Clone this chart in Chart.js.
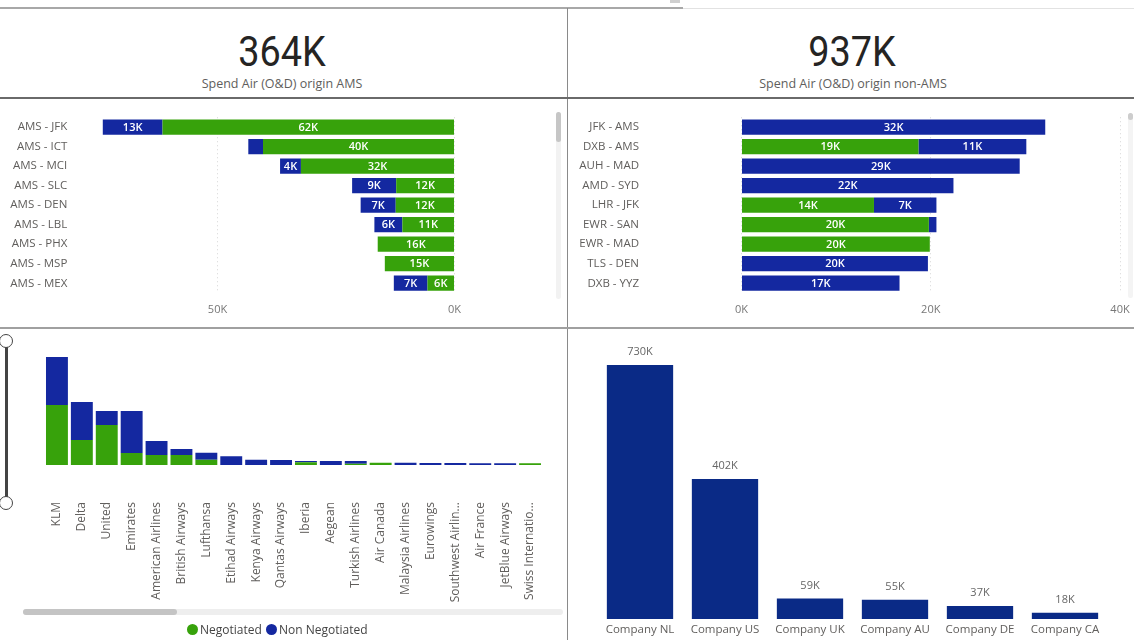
<!DOCTYPE html>
<html>
<head>
<meta charset="utf-8">
<script src="https://cdn.jsdelivr.net/npm/chart.js@4.4.1/dist/chart.umd.min.js"></script>
<style>
  body { margin:0; width:1134px; height:640px; background:#fff; position:relative; overflow:hidden; font-family:'Open Sans', sans-serif; }
  .abs { position:absolute; }
  canvas { position:absolute; }
  .kpi { position:absolute; width:300px; text-align:center; font-family:Roboto, sans-serif; font-size:43px; line-height:44px; color:#252423; transform:scaleX(0.88); }
  .kpiSub { position:absolute; width:300px; text-align:center; font-size:12.5px; line-height:16px; color:#605E5C; }
  .dot { display:inline-block; width:11px; height:11px; border-radius:50%; vertical-align:-1px; margin-right:2px; }
</style>
</head>
<body>

<!-- frame lines -->
<div class="abs" style="left:0;top:7px;width:683px;height:2px;background:#a8a8a8"></div>
<div class="abs" style="left:683px;top:8px;width:451px;height:1px;background:#e2e2e2"></div>
<div class="abs" style="left:670px;top:0;width:10px;height:3px;background:#cfcfcf"></div>
<div class="abs" style="left:567px;top:8px;width:1px;height:632px;background:#8a8a8a"></div>
<div class="abs" style="left:0;top:97px;width:1134px;height:2px;background:#6a6a6a"></div>
<div class="abs" style="left:0;top:327px;width:1134px;height:2px;background:#a0a0a0"></div>

<!-- KPI cards -->
<div class="kpi" style="left:132px;top:29px">364K</div>
<div class="kpiSub" style="left:132px;top:76px">Spend Air (O&amp;D) origin AMS</div>
<div class="kpi" style="left:702px;top:29px">937K</div>
<div class="kpiSub" style="left:703px;top:76px">Spend Air (O&amp;D) origin non-AMS</div>

<canvas id="amsChart" style="left:0;top:100px"></canvas>
<canvas id="nonAmsChart" style="left:567px;top:100px"></canvas>
<canvas id="airlineChart" style="left:0;top:330px"></canvas>
<canvas id="companyChart" style="left:568px;top:330px"></canvas>

<!-- scrollbars / slicer -->
<div class="abs" style="left:556px;top:112px;width:5px;height:187px;background:#f2f2f2;border-radius:3px"></div>
<div class="abs" style="left:556px;top:112px;width:5px;height:30px;background:#c6c6c6;border-radius:3px"></div>
<div class="abs" style="left:1128px;top:113px;width:5px;height:185px;background:#f4f4f4;border-radius:3px"></div>
<div class="abs" style="left:1128px;top:113px;width:5px;height:7px;background:#cdcdcd;border-radius:3px"></div>
<div class="abs" style="left:23px;top:609px;width:540px;height:6px;background:#eeeeee;border-radius:3px"></div>
<div class="abs" style="left:23px;top:609px;width:154px;height:6px;background:#c4c4c4;border-radius:3px"></div>
<div class="abs" style="left:5px;top:341px;width:3px;height:162px;background:#444"></div>
<div class="abs" style="left:-1px;top:334px;width:12px;height:12px;border:1.5px solid #444;border-radius:50%;background:#fff"></div>
<div class="abs" style="left:-1px;top:496px;width:12px;height:12px;border:1.5px solid #444;border-radius:50%;background:#fff"></div>

<!-- legend -->
<div class="abs" style="left:187px;top:621px;font-size:12px;line-height:18px;color:#444;white-space:nowrap">
  <span class="dot" style="background:#37A20B"></span>Negotiated <span class="dot" style="background:#1428A0;margin-left:1px"></span>Non Negotiated
</div>

<script>
// ---- data ----
const amsRoutes = ['AMS - JFK','AMS - ICT','AMS - MCI','AMS - SLC','AMS - DEN','AMS - LBL','AMS - PHX','AMS - MSP','AMS - MEX'];
const amsNegotiated    = [61.6, 40.4, 32.4, 12.3, 12.4, 11.0, 16.2, 14.7, 5.7];
const amsNonNegotiated = [12.6,  3.1,  4.4,  9.3,  7.4,  5.9,  0,    0,    7.1];
const amsTicks = [0, 50];

const nonAmsRoutes = ['JFK - AMS','DXB - AMS','AUH - MAD','AMD - SYD','LHR - JFK','EWR - SAN','EWR - MAD','TLS - DEN','DXB - YYZ'];
const nonAmsNegotiated    = [0,    18.7, 0,    0,    14.0, 19.8, 19.9, 0,    0];
const nonAmsNonNegotiated = [32.1, 11.4, 29.4, 22.4,  6.6,  0.8,  0,   19.7, 16.7];
const nonAmsTicks = [0, 20, 40];

const airlines = ['KLM','Delta','United','Emirates','American Airlines','British Airways','Lufthansa','Etihad Airways',
  'Kenya Airways','Qantas Airways','Iberia','Aegean','Turkish Airlines','Air Canada','Malaysia Airlines','Eurowings',
  'Southwest Airlin...','Air France','JetBlue Airways','Swiss Internatio...'];
const airlineNegotiated    = [180, 75, 120, 36, 30, 30, 16, 0, 0, 0, 8, 0, 4, 7, 0, 0, 0, 0, 0, 5];
const airlineNonNegotiated = [144, 114, 42, 126, 42, 18, 21, 26, 16, 15, 4, 12, 8, 0, 7, 6, 6, 5, 5, 0];

const companies = ['Company NL','Company US','Company UK','Company AU','Company DE','Company CA'];
const companySpend = [730, 402, 59, 55, 37, 18];

const GREEN = '#37A20B';
const BLUE = '#1428A0';
const NAVY = '#0A2A86';
const AXIS = '#605E5C';

// value labels drawn from the bar elements
const barLabels = {
  id: 'barLabels',
  afterDatasetsDraw(chart, args, opts) {
    const ctx = chart.ctx;
    ctx.save();
    ctx.font = opts.font;
    ctx.fillStyle = opts.color;
    ctx.textAlign = 'center';
    ctx.textBaseline = 'middle';
    chart.data.datasets.forEach((ds, di) => {
      chart.getDatasetMeta(di).data.forEach((bar, i) => {
        const v = ds.data[i];
        if (!v) return;
        const txt = Math.round(v) + 'K';
        if (opts.inside) {
          if (Math.abs(bar.x - bar.base) < 17) return;
          ctx.fillText(txt, (bar.x + bar.base) / 2, bar.y + 0.5);
        } else {
          ctx.fillText(txt, bar.x, bar.y - 13);
        }
      });
    });
    ctx.restore();
  }
};

function setSize(id, w, h) {
  const c = document.getElementById(id);
  c.width = w; c.height = h;
  c.style.width = w + 'px'; c.style.height = h + 'px';
  return c;
}

// scale paddings would otherwise push into the chart area
const noScalePad = s => { s.paddingTop = 0; s.paddingBottom = 0; s.paddingLeft = 0; s.paddingRight = 0; };

function routeChart(id, labels, neg, nonNeg, ticks, max, reverse, yWidth, yPad, padRight) {
  return new Chart(setSize(id, 567, 226), {
    type: 'bar',
    data: {
      labels: labels,
      datasets: [
        { label: 'Negotiated', data: neg, backgroundColor: GREEN, barPercentage: 0.78, categoryPercentage: 1 },
        { label: 'Non Negotiated', data: nonNeg, backgroundColor: BLUE, barPercentage: 0.78, categoryPercentage: 1 }
      ]
    },
    options: {
      indexAxis: 'y',
      responsive: false,
      animation: false,
      layout: { padding: { top: 17.25, right: padRight, bottom: 0, left: 0 } },
      plugins: {
        legend: { display: false },
        tooltip: { enabled: false },
        barLabels: { inside: true, font: '600 11px "Open Sans"', color: '#ffffff' }
      },
      scales: {
        x: {
          stacked: true, reverse: reverse, min: 0, max: max,
          afterBuildTicks: s => { s.ticks = ticks.map(v => ({ value: v })); },
          afterFit: s => { noScalePad(s); s.height = 33; },
          ticks: { padding: 10.5, color: '#777', font: { family: 'Open Sans', size: 11 }, callback: v => v + 'K' },
          grid: { color: '#d6d6d6', drawTicks: false },
          border: { display: false, dash: [1, 3] }
        },
        y: {
          stacked: true,
          afterFit: s => { noScalePad(s); s.width = yWidth; },
          ticks: { padding: yPad, color: AXIS, font: { family: 'Open Sans', size: 11.5 } },
          grid: { display: false, drawTicks: false },
          border: { display: false }
        }
      }
    },
    plugins: [barLabels]
  });
}

routeChart('amsChart', amsRoutes, amsNegotiated, amsNonNegotiated, amsTicks, 80, true, 75.3, 8, 112.5);
routeChart('nonAmsChart', nonAmsRoutes, nonAmsNegotiated, nonAmsNonNegotiated, nonAmsTicks, 40, false, 174.5, 102.5, 14);

new Chart(setSize('airlineChart', 567, 310), {
  type: 'bar',
  data: {
    labels: airlines,
    datasets: [
      { label: 'Negotiated', data: airlineNegotiated, backgroundColor: GREEN, barPercentage: 0.88, categoryPercentage: 1 },
      { label: 'Non Negotiated', data: airlineNonNegotiated, backgroundColor: BLUE, barPercentage: 0.88, categoryPercentage: 1 }
    ]
  },
  options: {
    responsive: false,
    animation: false,
    layout: { padding: { top: 21.7, right: 24.5, bottom: 0, left: 44.5 } },
    plugins: { legend: { display: false }, tooltip: { enabled: false } },
    scales: {
      x: {
        stacked: true,
        afterFit: s => { noScalePad(s); s.height = 175; },
        ticks: { autoSkip: false, minRotation: 90, maxRotation: 90, padding: 37, color: AXIS, font: { family: 'Open Sans', size: 12 } },
        grid: { display: false, drawTicks: false },
        border: { display: false }
      },
      y: { stacked: true, display: false, min: 0, max: 340 }
    }
  }
});

new Chart(setSize('companyChart', 566, 310), {
  type: 'bar',
  data: {
    labels: companies,
    datasets: [{ label: 'Spend', data: companySpend, backgroundColor: NAVY, barPercentage: 0.78, categoryPercentage: 1 }]
  },
  options: {
    responsive: false,
    animation: false,
    layout: { padding: { top: 10.6, right: 26.5, bottom: 0, left: 29.5 } },
    plugins: {
      legend: { display: false },
      tooltip: { enabled: false },
      barLabels: { inside: false, font: '11px "Open Sans"', color: '#666' }
    },
    scales: {
      x: {
        afterFit: s => { noScalePad(s); s.height = 21; },
        ticks: { padding: 4, color: AXIS, font: { family: 'Open Sans', size: 11.5 } },
        grid: { display: false, drawTicks: false },
        border: { display: false }
      },
      y: { display: false, min: 0, max: 800 }
    }
  },
  plugins: [barLabels]
});
</script>
</body>
</html>
